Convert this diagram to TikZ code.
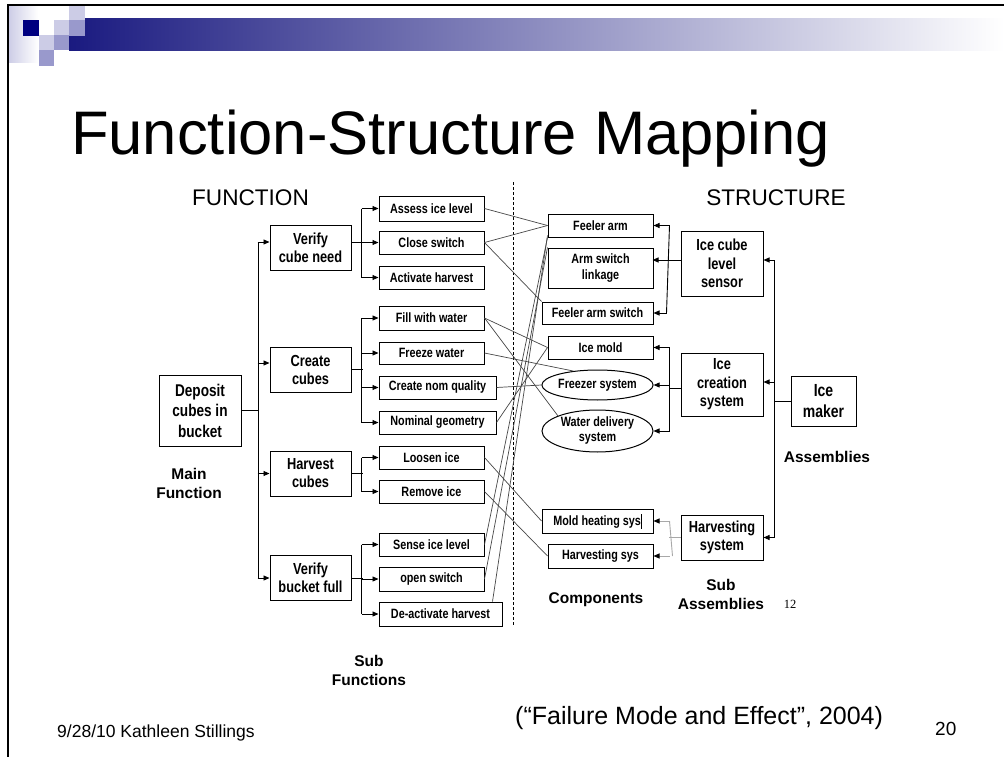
\documentclass[tikz,border=0pt]{standalone}
\usepackage{fontspec}
\setmainfont{Liberation Sans}
\newfontfamily\nar[FakeStretch=0.8]{Liberation Sans}
\newfontfamily\tms{Liberation Serif}
\usetikzlibrary{arrows.meta,shapes.geometric}
\definecolor{navy}{HTML}{000080}
\definecolor{lav}{HTML}{CCCCE6}
\definecolor{midblue}{HTML}{9999CC}
\definecolor{barblue}{HTML}{1A1A80}
\definecolor{barmid}{HTML}{A5A5C0}
\definecolor{hgray}{HTML}{A8A8A8}
\begin{document}
\begin{tikzpicture}[x=1pt,y=-1pt,
  box/.style={draw, line width=1pt, inner sep=0pt, align=center,
    font=\nar\bfseries\fontsize{13.5}{16}\selectfont},
  subf/.style={box, minimum width=105pt, minimum height=23pt},
  comp/.style={box, minimum width=105pt, minimum height=23pt},
  oval/.style={box, ellipse, minimum width=111pt},
  func/.style={box, minimum width=81pt, minimum height=45pt,
    font=\nar\bfseries\fontsize{16}{18}\selectfont},
  assy/.style={box, minimum width=82pt,
    font=\nar\bfseries\fontsize{16}{18.5}\selectfont},
  ln/.style={line width=0.9pt},
  arr/.style={line width=0.9pt, -{Triangle[length=6pt,width=5pt]}},
  garr/.style={line width=0.9pt, draw=hgray, -{Triangle[length=6pt,width=5pt,color=black]}},
  gl/.style={line width=0.9pt, draw=hgray},
  xl/.style={line width=0.7pt, draw=black!72},
  lab/.style={align=center, font=\bfseries\fontsize{15.5}{19}\selectfont},
  head/.style={font=\fontsize{22.6}{26}\selectfont, anchor=base}]
\useasboundingbox (0,0) rectangle (1004,757);
\fill[white] (0,0) rectangle (1004,757);

% slide decoration
\shade[left color=lav, right color=white] (8,5) rectangle (38,63);
\shade[left color=barblue, middle color=barmid, right color=white] (69,19) rectangle (1004,51);
\fill[navy] (23,20) rectangle (39,36);
\fill[lav] (54,20) rectangle (69,35);
\fill[midblue] (69,20) rectangle (85,36);
\fill[lav] (69,5) rectangle (85,20);
\fill[lav] (39,35) rectangle (54,50);
\fill[midblue] (54,35) rectangle (69,50);
\fill[midblue] (39,50) rectangle (54,66);
\draw[line width=1.3pt] (8,757) -- (8,5) -- (1004,5);

% title
\node[anchor=base west, inner sep=0pt, font=\fontsize{61.5}{70}\selectfont] (title) at (71,155) {Function-Structure Mapping};

% column headings
\node[head] (hfun) at (250.5,205) {FUNCTION};
\node[head] (hstr) at (776,205) {STRUCTURE};
\draw[line width=0.8pt, dash pattern=on 3pt off 2pt] (513,182) -- (513,625);

% main function
\node[box, minimum width=82pt, minimum height=71pt, font=\nar\bfseries\fontsize{17}{20.5}\selectfont] (dep) at (200,410.5) {Deposit\\cubes in\\bucket};

% functions
\node[func] (vcn) at (310.5,247.5) {Verify\\cube need};
\node[func] (cc)  at (310.5,369.5) {Create\\cubes};
\node[func] (hc)  at (310.5,473.5) {Harvest\\cubes};
\node[func] (vbf) at (310.5,578) {Verify\\bucket full};

% sub functions
\node[subf, minimum height=25pt] (ail) at (431.5,208.5) {Assess ice level};
\node[subf] (cs)  at (431.5,242.5) {Close switch};
\node[subf] (ah)  at (431.5,277.5) {Activate harvest};
\node[subf, minimum height=24pt] (fw)  at (431.5,318) {Fill with water};
\node[subf, minimum height=22pt] (frw) at (431.5,353) {Freeze water};
\node[subf, minimum width=117pt] (cnq) at (437.5,387.5) {Create nom quality};
\node[subf, minimum width=117pt] (ng)  at (437.5,422.5) {Nominal geometry};
\node[subf] (li)  at (431.5,457.5) {Loosen ice};
\node[subf] (ri)  at (431.5,491.5) {Remove ice};
\node[subf] (sil) at (431.5,544.5) {Sense ice level};
\node[subf, minimum height=24pt] (os)  at (431.5,579) {open switch};
\node[subf, minimum width=123pt, minimum height=24pt] (dah) at (440.5,614) {De-activate harvest};

% components
\node[comp] (fa)  at (600.5,225.5) {Feeler arm};
\node[comp, minimum height=40pt] (asl) at (600.5,268) {Arm switch\\linkage};
\node[comp, minimum width=111pt, minimum height=22pt] (fas) at (597.5,313) {Feeler arm switch};
\node[comp] (im)  at (600.5,347.5) {Ice mold};
\node[oval, minimum height=30pt] (fs)  at (597.5,385) {Freezer system};
\node[oval, minimum height=42pt, font=\nar\bfseries\fontsize{13.5}{15}\selectfont] (wds) at (597.5,431) {Water delivery\\system};
\node[comp, minimum width=111pt, minimum height=24pt] (mhs) at (597.5,521) {Mold heating sys\rule[-3pt]{0.7pt}{15pt}};
\node[comp, minimum height=24pt] (hs)  at (600.5,556) {Harvesting sys};

% sub assemblies
\node[assy, minimum height=65pt] (sens) at (722,263.5) {Ice cube\\level\\sensor};
\node[assy, minimum height=63pt] (ics)  at (722,384.5) {Ice\\creation\\system};
\node[assy, minimum height=45pt] (hsys) at (722,537.5) {Harvesting\\system};

% assembly
\node[box, minimum width=65pt, minimum height=50pt, font=\nar\bfseries\fontsize{17.5}{21}\selectfont] (maker) at (823.5,401) {Ice\\maker};

% level labels
\node[lab] (lmain) at (189,483.5) {Main\\Function};
\node[lab] (lsubf) at (369,670.5) {Sub\\Functions};
\node[lab] (lcomp) at (596,600) {Components};
\node[lab] (lsuba) at (721,594.5) {Sub\\Assemblies};
\node[lab] (lassy) at (827,457) {Assemblies};
\node[font=\tms\fontsize{12.5}{14}\selectfont] (pg12) at (790,604) {12};

% main function to functions
\coordinate (t1) at (258,242);
\coordinate (t4) at (258,578);
\draw[ln] (dep.east) -- (dep.east -| t1);
\draw[ln] (t1) -- (t4);
\draw[arr] (vcn.west) ++(-12,-5.5) -- ++(12,0);
\draw[arr] (cc.west)  ++(-12,-6.5) -- ++(12,0);
\draw[arr] (hc.west)  ++(-12,0) -- ++(12,0);
\draw[arr] (vbf.west) ++(-12,0) -- ++(12,0);

% functions to sub functions
\draw[ln] (vcn.east) ++(0,-5.5) -- ++(11,0);
\draw[ln] (ail.west) ++(-17,0) -- ([xshift=-17pt]ah.west);
\draw[arr] (ail.west) ++(-17,0) -- ++(17,0);
\draw[arr] (cs.west)  ++(-17,0) -- ++(17,0);
\draw[arr] (ah.west)  ++(-17,0) -- ++(17,0);

\draw[ln] (cc.east) -- ++(11,0);
\draw[ln] (fw.west) ++(-17,0) -- ([xshift=-17pt]ng.west);
\draw[arr] (fw.west)  ++(-17,0) -- ++(17,0);
\draw[arr] (frw.west) ++(-17,0) -- ++(17,0);
\draw[arr] (cnq.west) ++(-17,0) -- ++(17,0);
\draw[arr] (ng.west)  ++(-17,0) -- ++(17,0);

\draw[ln] (hc.east) -- ++(11,0);
\draw[ln] (li.west) ++(-17,0) -- ([xshift=-17pt]ri.west);
\draw[arr] (li.west) ++(-17,0) -- ++(17,0);
\draw[arr] (ri.west) ++(-17,0) -- ++(17,0);

\draw[ln] (vbf.east) -- ++(11,0);
\draw[ln] (sil.west) ++(-17,0) -- ([xshift=-17pt]dah.west);
\draw[arr] (sil.west) ++(-17,0) -- ++(17,0);
\draw[arr] (os.west)  ++(-17,0) -- ++(17,0);
\draw[arr] (dah.west) ++(-17,0) -- ++(17,0);

% sub functions to components
\draw[xl] (ail.east) -- (fa.west);
\draw[xl] (cs.east) -- (fa.west);
\draw[xl] (cs.east) -- (fas.north west);
\draw[xl] (fw.east) -- (im.west);
\draw[xl] (fw.east) -- (wds.north west);
\draw[xl] (frw.east) -- (fs.150);
\draw[xl] (cnq.east) -- (fs.west);
\draw[xl] (ng.east) -- (im.west);
\draw[xl] (li.east) -- (mhs.west);
\draw[xl] (ri.east) -- (hs.west);
\draw[xl] (sil.east) -- (fa.south west);
\draw[xl] (os.east) -- (asl.north west);
\draw[xl] ([xshift=-10pt]dah.north east) -- ([yshift=2pt]fa.south west);

% sub assemblies to components
\draw[arr] (sens.west) ++(0,-3.5) -- ++(-28,0);
\draw[ln] (fa.east) ++(16,0) -- ([xshift=13pt]fas.east);
\draw[arr] (fa.east) ++(16,0) -- (fa.east);
\draw[arr] (fas.east) ++(13,0) -- (fas.east);

\draw[ln] (ics.west) ++(0,3.5) -- ++(-12,0);
\draw[ln] (im.east) ++(16,0) -- ([xshift=16pt]wds.east);
\draw[arr] (im.east) ++(16,0) -- (im.east);
\draw[arr] (fs.east) ++(16,0) -- (fs.east);
\draw[arr] (wds.east) ++(16,0) -- (wds.east);

\draw[gl] (hsys.west) -- ++(-12,0);
\draw[gl] (mhs.east) ++(16,0) -- ([xshift=19pt]hs.east);
\draw[garr] (mhs.east) ++(16,0) -- (mhs.east);
\draw[garr] (hs.east) ++(16,0) -- (hs.east);

% assembly to sub assemblies
\coordinate (a1) at (774,260);
\coordinate (a3) at (774,537.5);
\draw[ln] (maker.west) -- (maker.west -| a1);
\draw[ln] (a1) -- (a3);
\draw[arr] (a1) -- (a1 -| sens.east);
\draw[arr] (ics.east) ++(11,-2.5) -- ++(-11,0);
\draw[arr] (a3) -- (hsys.east);

% footer
\node[anchor=base west, inner sep=0pt, font=\fontsize{17.5}{20}\selectfont] (foot) at (57,737) {9/28/10 Kathleen Stillings};
\node[anchor=base west, inner sep=0pt, font=\fontsize{25}{28}\selectfont] (cite) at (515,724) {(“Failure Mode and Effect”, 2004)};
\node[anchor=base west, inner sep=0pt, font=\fontsize{19}{22}\selectfont] (pgno) at (935,735) {20};
\end{tikzpicture}
\end{document}
